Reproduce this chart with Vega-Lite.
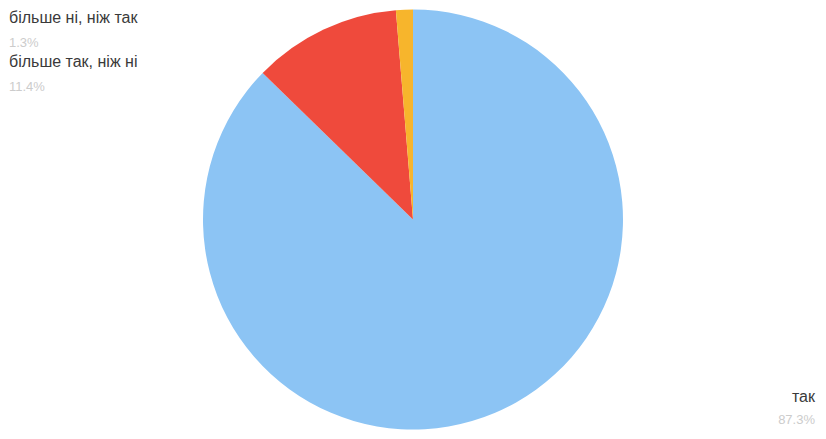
{
  "$schema": "https://vega.github.io/schema/vega-lite/v6.json",
  "width": 826,
  "height": 439,
  "autosize": {"type": "fit", "contains": "padding"},
  "padding": 0,
  "background": "white",
  "config": {"view": {"stroke": null}, "font": "Liberation Sans"},
  "data": {
    "values": [
      {"answer": "так", "pct": 87.3},
      {"answer": "більше так, ніж ні", "pct": 11.4},
      {"answer": "більше ні, ніж так", "pct": 1.3}
    ]
  },
  "transform": [{"calculate": "format(datum.pct, '.1f') + '%'", "as": "lbl"}],
  "resolve": {"scale": {"y": "independent", "x": "independent"}},
  "layer": [
    {
      "mark": {"type": "arc", "outerRadius": 210},
      "encoding": {
        "theta": {"field": "pct", "type": "quantitative", "stack": true},
        "order": {"field": "pct", "type": "quantitative", "sort": "descending"},
        "color": {
          "field": "answer",
          "type": "nominal",
          "legend": null,
          "scale": {
            "domain": ["так", "більше так, ніж ні", "більше ні, ніж так"],
            "range": ["#8cc4f4", "#ef4a3c", "#f7b52c"]
          }
        }
      }
    },
    {
      "transform": [{"filter": "datum.answer != 'так'"}],
      "mark": {"type": "text", "align": "left", "baseline": "alphabetic", "fontSize": 16, "color": "#3a3a3a"},
      "encoding": {
        "x": {"value": 9},
        "y": {"field": "answer", "type": "nominal", "axis": null,
              "scale": {"type": "point", "domain": ["більше ні, ніж так", "більше так, ніж ні"], "range": [23, 67], "padding": 0}},
        "text": {"field": "answer"}
      }
    },
    {
      "transform": [{"filter": "datum.answer != 'так'"}],
      "mark": {"type": "text", "align": "left", "baseline": "alphabetic", "fontSize": 13, "color": "#cccccc", "dy": 24},
      "encoding": {
        "x": {"value": 9},
        "y": {"field": "answer", "type": "nominal", "axis": null,
              "scale": {"type": "point", "domain": ["більше ні, ніж так", "більше так, ніж ні"], "range": [23, 67], "padding": 0}},
        "text": {"field": "lbl"}
      }
    },
    {
      "transform": [{"filter": "datum.answer == 'так'"}],
      "mark": {"type": "text", "align": "right", "baseline": "alphabetic", "fontSize": 16, "color": "#3a3a3a"},
      "encoding": {
        "x": {"value": 815},
        "y": {"value": 402},
        "text": {"field": "answer"}
      }
    },
    {
      "transform": [{"filter": "datum.answer == 'так'"}],
      "mark": {"type": "text", "align": "right", "baseline": "alphabetic", "fontSize": 13, "color": "#cccccc"},
      "encoding": {
        "x": {"value": 815},
        "y": {"value": 424},
        "text": {"field": "lbl"}
      }
    }
  ]
}
